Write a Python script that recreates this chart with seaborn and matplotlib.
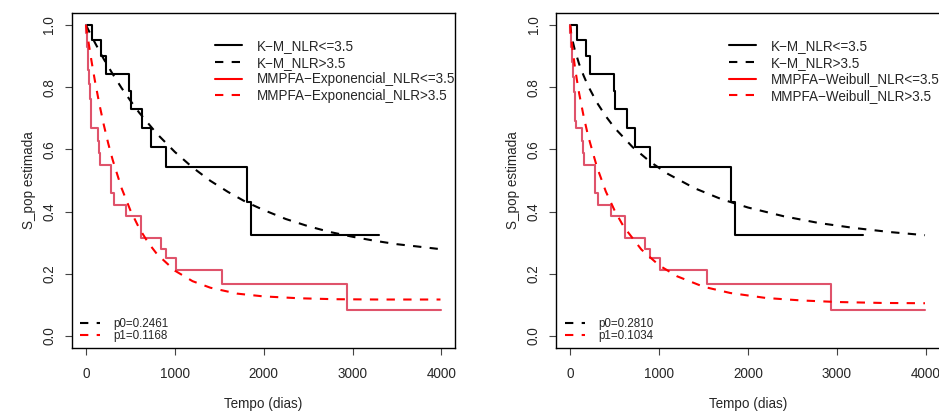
import matplotlib
matplotlib.use("Agg")
import matplotlib.pyplot as plt
from matplotlib.lines import Line2D
import pandas as pd
import seaborn as sns

# ---------------- data ----------------
# Kaplan-Meier, NLR<=3.5 (black solid steps)
km0_t = [0, 73, 172, 222, 490, 505, 636, 732, 899, 1813, 1852, 3298]
km0_s = [1.0, 0.952, 0.900, 0.843, 0.787, 0.731, 0.670, 0.609, 0.543, 0.431, 0.324, 0.324]

# Kaplan-Meier, NLR>3.5 (red solid steps)
km1_t = [0, 3, 8, 13, 18, 23, 28, 33, 38, 44, 49, 52, 55, 58, 60, 135, 146, 153,
         278, 318, 455, 617, 845, 898, 1012, 1533, 2933, 3993]
km1_s = [1.0, 0.976, 0.952, 0.929, 0.905, 0.881, 0.857, 0.833, 0.810, 0.786, 0.762,
         0.738, 0.714, 0.690, 0.668, 0.628, 0.589, 0.550, 0.459, 0.421, 0.386, 0.316,
         0.281, 0.249, 0.211, 0.168, 0.084, 0.084]

# MMPFA-Exponencial fitted curves (dashed)
exp0_t = [0, 100, 200, 300, 400, 500, 600, 800, 1000, 1200, 1400, 1600, 1800, 2000,
          2250, 2500, 2750, 3000, 3250, 3500, 3750, 3960]
exp0_s = [1.0, 0.944, 0.891, 0.843, 0.798, 0.757, 0.718, 0.650, 0.592, 0.542, 0.499,
          0.463, 0.431, 0.405, 0.376, 0.353, 0.334, 0.319, 0.306, 0.295, 0.287, 0.280]
exp1_t = [0, 25, 50, 75, 100, 150, 200, 250, 300, 400, 500, 600, 700, 800, 1000, 1200,
          1400, 1700, 2000, 2400, 2800, 3300, 3990]
exp1_s = [1.0, 0.952, 0.906, 0.863, 0.822, 0.747, 0.680, 0.620, 0.567, 0.476, 0.404,
          0.346, 0.300, 0.263, 0.210, 0.176, 0.155, 0.136, 0.127, 0.121, 0.118, 0.117,
          0.117]

# MMPFA-Weibull fitted curves (dashed)
wei0_t = [0, 10, 25, 50, 100, 150, 200, 300, 400, 500, 700, 900, 1100, 1400, 1700,
          2000, 2400, 2800, 3200, 3600, 3990]
wei0_s = [1.0, 0.975, 0.952, 0.922, 0.875, 0.838, 0.805, 0.751, 0.707, 0.669, 0.608,
          0.560, 0.521, 0.475, 0.440, 0.413, 0.385, 0.363, 0.347, 0.334, 0.324]
wei1_t = [0, 10, 25, 50, 75, 100, 150, 200, 300, 400, 500, 600, 800, 1000, 1200, 1500,
          1800, 2200, 2600, 3000, 3500, 3990]
wei1_s = [1.0, 0.965, 0.926, 0.871, 0.824, 0.781, 0.708, 0.645, 0.544, 0.465, 0.403,
          0.352, 0.278, 0.227, 0.192, 0.158, 0.138, 0.122, 0.114, 0.109, 0.106, 0.105]

panel_labels = [
    ["K\u2212M_NLR<=3.5", "K\u2212M_NLR>3.5",
     "MMPFA\u2212Exponencial_NLR<=3.5", "MMPFA\u2212Exponencial_NLR>3.5"],
    ["K\u2212M_NLR<=3.5", "K\u2212M_NLR>3.5",
     "MMPFA\u2212Weibull_NLR<=3.5", "MMPFA\u2212Weibull_NLR>3.5"],
]
p_labels = [["p0=0.2461", "p1=0.1168"], ["p0=0.2810", "p1=0.1034"]]
x_ticks = [0, 1000, 2000, 3000, 4000]
y_ticks = [0.0, 0.2, 0.4, 0.6, 0.8, 1.0]
x_label = "Tempo (dias)"
y_label = "S_pop estimada"

# ---------------- style ----------------
sns.set_theme(style="ticks")
plt.rcParams["font.family"] = ["Liberation Sans", "DejaVu Sans"]
plt.rcParams["axes.linewidth"] = 1.0
plt.rcParams["axes.edgecolor"] = "black"

FS = 9.75
LW = 1.5
DASH = (4, 4)
KM_RED = "#DF536B"

fig = plt.figure(figsize=(9.39, 4.12), dpi=100)
ax_pos = [[0.0764, 0.1546, 0.4082, 0.8146], [0.5921, 0.1546, 0.4085, 0.8146]]
leg_x = [0.374, 0.452]
pleg_x = [0.0217, 0.0235]

curves = [(exp0_t, exp0_s, exp1_t, exp1_s), (wei0_t, wei0_s, wei1_t, wei1_s)]

for i in range(2):
    ax = fig.add_axes(ax_pos[i])
    c0t, c0s, c1t, c1s = curves[i]
    df_km0 = pd.DataFrame({"t": km0_t, "s": km0_s})
    df_km1 = pd.DataFrame({"t": km1_t, "s": km1_s})
    df_c0 = pd.DataFrame({"t": c0t, "s": c0s})
    df_c1 = pd.DataFrame({"t": c1t, "s": c1s})

    sns.lineplot(data=df_km0, x="t", y="s", ax=ax, color="black", lw=LW,
                 drawstyle="steps-post", estimator=None, sort=False)
    sns.lineplot(data=df_c0, x="t", y="s", ax=ax, color="black", lw=LW,
                 estimator=None, sort=False).lines[-1].set_dashes(DASH)
    sns.lineplot(data=df_km1, x="t", y="s", ax=ax, color=KM_RED, lw=LW,
                 drawstyle="steps-post", estimator=None, sort=False)
    sns.lineplot(data=df_c1, x="t", y="s", ax=ax, color="red", lw=LW,
                 estimator=None, sort=False).lines[-1].set_dashes(DASH)

    ax.set_xlim(-160, 4154)
    ax.set_ylim(-0.04, 1.04)
    ax.set_xticks(x_ticks)
    ax.set_xticklabels([str(v) for v in x_ticks], fontsize=FS)
    ax.set_yticks(y_ticks)
    ax.set_yticklabels([f"{v:.1f}" for v in y_ticks], fontsize=FS, rotation=90,
                       va="center")
    ax.tick_params(axis="both", direction="out", length=5, width=0.8,
                   color="#444444", pad=8.5)
    ax.tick_params(axis="y", pad=6)
    ax.set_xlabel(x_label, fontsize=FS, labelpad=11.5)
    ax.set_ylabel(y_label, fontsize=FS, labelpad=5)
    for sp in ax.spines.values():
        sp.set_visible(True)
        sp.set_color("black")
        sp.set_linewidth(1.0)

    h_main = [
        Line2D([], [], color="black", lw=LW),
        Line2D([], [], color="black", lw=LW, dashes=DASH),
        Line2D([], [], color="red", lw=LW),
        Line2D([], [], color="red", lw=LW, dashes=DASH),
    ]
    leg1 = ax.legend(h_main, panel_labels[i], loc="upper left",
                     bbox_to_anchor=(leg_x[i], 0.922), frameon=False,
                     fontsize=FS, borderpad=0, borderaxespad=0,
                     handlelength=2.0, handletextpad=1.1, labelspacing=0.2)
    ax.add_artist(leg1)

    h_p = [
        Line2D([], [], color="black", lw=LW, dashes=DASH),
        Line2D([], [], color="red", lw=LW, dashes=DASH),
    ]
    ax.legend(h_p, p_labels[i], loc="lower left",
              bbox_to_anchor=(pleg_x[i], 0.019), frameon=False,
              fontsize=8.4, borderpad=0, borderaxespad=0,
              handlelength=1.7, handletextpad=1.15, labelspacing=-0.04)

fig.savefig("out.png", dpi=100)
